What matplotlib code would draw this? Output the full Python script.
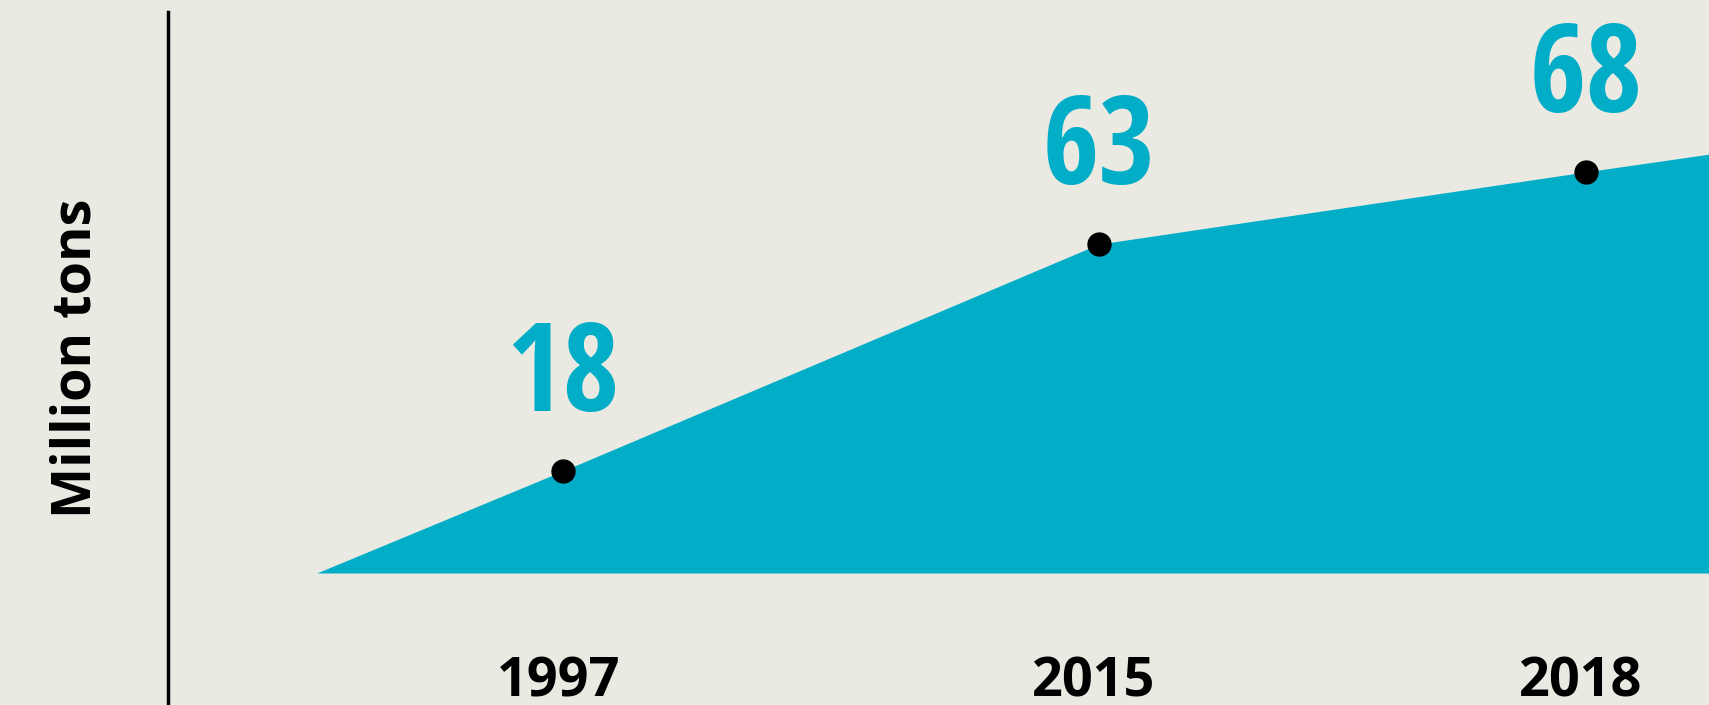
import matplotlib
matplotlib.use("Agg")
import matplotlib.pyplot as plt
from matplotlib.lines import Line2D

# data
years = ["1997", "2015", "2018"]
values = [18, 63, 68]                 # million tons, as labelled
# the drawing is stylised: point heights are not to scale with the labels,
# so keep where they sit (percent of plot width / height)
point_x = [25.65, 60.4, 92.0]
point_h = [17.85, 57.4, 70.0]
# area starts on the baseline before 1997 and keeps rising past 2018
start_x, start_h = 9.65, 0.0
end_x, end_h = 100.0, 73.1

BG = "#EAEAE3"
TEAL = "#02ADC8"

W, H = 1709, 705

fig = plt.figure(figsize=(W / 100.0, H / 100.0), dpi=100, facecolor=BG)
ax = fig.add_axes([168.0 / W, 132.0 / H, 1541.0 / W, 573.0 / H])
ax.set_facecolor(BG)
ax.set_xlim(0, 100)
ax.set_ylim(0, 100)
ax.axis("off")

area_x = [start_x] + point_x + [end_x]
area_h = [start_h] + point_h + [end_h]
ax.fill_between(area_x, area_h, 0, color=TEAL, lw=0)
ax.plot(point_x, point_h, "o", color="black", ms=16.5, clip_on=False, zorder=3)

for x, h, v in zip(point_x, point_h, values):
    ax.annotate(str(v), (x, h), xytext=(0, 43), textcoords="offset points",
                ha="center", va="baseline", color=TEAL, fontsize=88,
                fontweight="bold", fontstretch="condensed",
                family=["Open Sans Condensed", "DejaVu Sans"])

# year labels under the baseline
for x, y in zip(point_x, years):
    ax.text(x - 0.3, -0.2147, y, transform=ax.get_xaxis_transform(),
            ha="center", va="baseline", fontsize=39, fontweight="bold",
            family=["Open Sans", "DejaVu Sans"], color="black")

# vertical rule on the left
fig.add_artist(Line2D([168.0 / W, 168.0 / W], [0, 1 - 12.0 / H],
                      transform=fig.transFigure, color="black", lw=2.5))

fig.text(77.0 / W, 1 - 358.0 / H, "Million tons", rotation=90,
         ha="center", va="center", fontsize=39, fontweight="bold",
         family=["Open Sans", "DejaVu Sans"], color="black")

fig.savefig("out.png", dpi=100, facecolor=BG)
